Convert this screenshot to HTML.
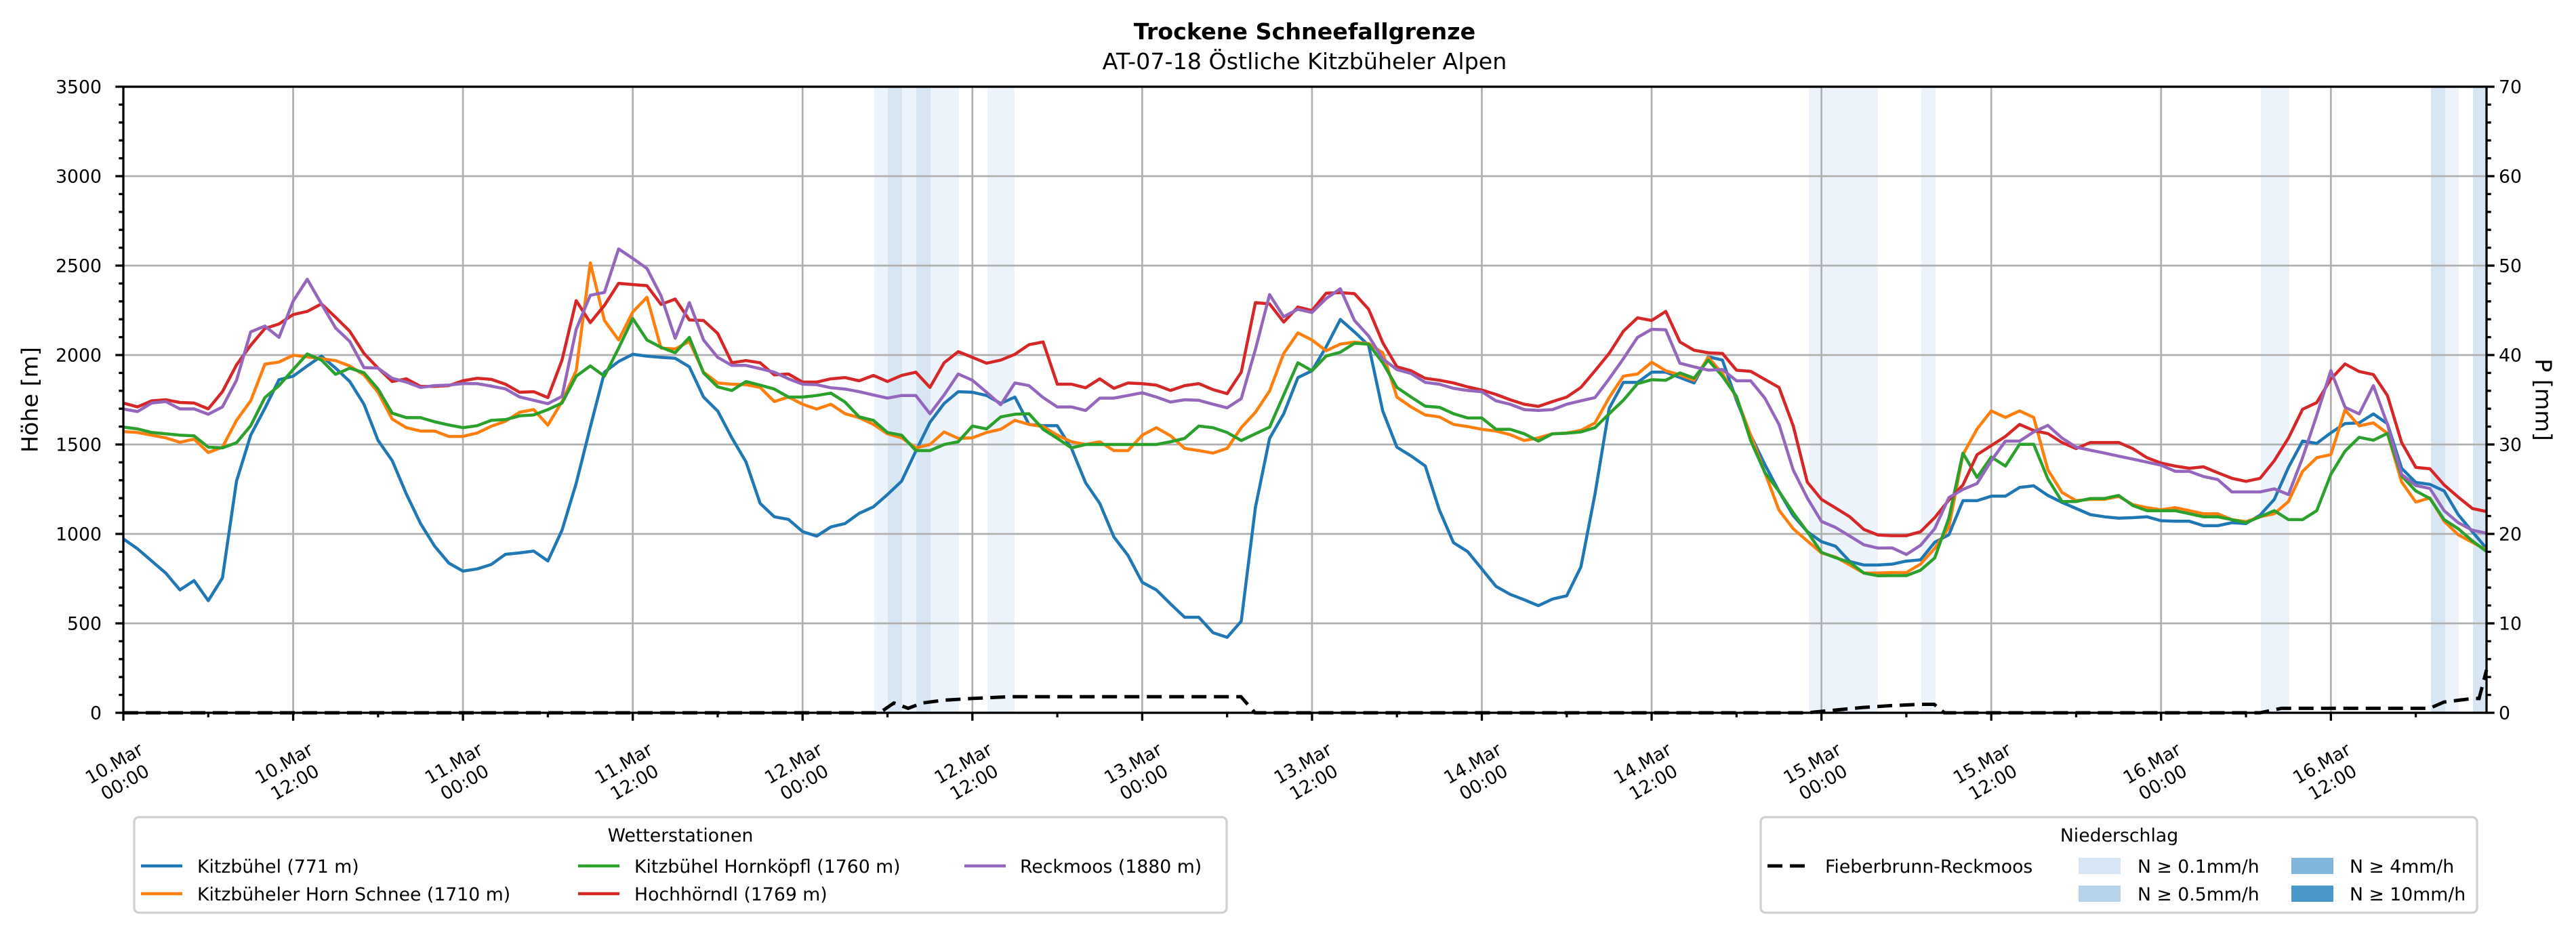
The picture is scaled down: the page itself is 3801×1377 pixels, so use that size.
<!DOCTYPE html>
<html><head><meta charset="utf-8">
<style>
html,body{margin:0;padding:0;background:#fff;}
svg{display:block;}
text{font-family:"DejaVu Sans","Liberation Sans",sans-serif;fill:#000;}
</style></head>
<body>
<svg id="s" xmlns="http://www.w3.org/2000/svg" width="3801" height="1377" viewBox="0 0 3801 1377">
<rect width="3801" height="1377" fill="#fff"/>
<g id="bands"></g>
<g id="grid"></g>
<g id="series" fill="none" stroke-width="4.5" stroke-linejoin="round" stroke-linecap="butt"></g>
<polyline fill="none" stroke="#000" stroke-width="5" stroke-dasharray="22,11" points="182,1052 1298,1052 1319,1037.5 1340,1045.4 1361,1037.5 1392,1033.5 1434,1030.9 1476,1028.9 1497,1028.2 1831,1028.2 1852,1052 2666,1052 2708,1048 2749,1044.1 2791,1041.4 2833,1039.5 2854,1039.5 2869,1052 3335,1052 3366,1045.4 3585,1045.4 3606,1036.2 3648,1030.9 3658,1030.9 3669,988.6"/>
<rect x="182" y="128" width="3487" height="924" fill="none" stroke="#000" stroke-width="3.3"/>
<g id="ticks" stroke="#000" stroke-width="3.3"></g>
<g id="labels" font-size="26.7"></g>
<text x="1925" y="58" text-anchor="middle" font-size="33.3" font-weight="bold">Trockene Schneefallgrenze</text>
<text x="1925" y="102" text-anchor="middle" font-size="33.3">AT-07-18 Östliche Kitzbüheler Alpen</text>
<text transform="translate(44,590) rotate(-90)" text-anchor="middle" dominant-baseline="central" font-size="33.3">Höhe [m]</text>
<text transform="translate(3753,590) rotate(90)" text-anchor="middle" dominant-baseline="central" font-size="33.3">P [mm]</text>

<!-- Legend 1 -->
<rect x="198" y="1206" width="1612" height="141" rx="7" fill="#fff" stroke="#d0d0d0" stroke-width="3.3"/>
<text x="1004" y="1242" text-anchor="middle" font-size="26.7">Wetterstationen</text>
<line x1="208" y1="1278" x2="269" y2="1278" stroke="#1f77b4" stroke-width="4.5"/>
<text x="291" y="1288" font-size="26.7">Kitzbühel (771 m)</text>
<line x1="208" y1="1319" x2="269" y2="1319" stroke="#ff7f0e" stroke-width="4.5"/>
<text x="291" y="1329" font-size="26.7">Kitzbüheler Horn Schnee (1710 m)</text>
<line x1="853" y1="1278" x2="914" y2="1278" stroke="#2ca02c" stroke-width="4.5"/>
<text x="936" y="1288" font-size="26.7">Kitzbühel Hornköpfl (1760 m)</text>
<line x1="853" y1="1319" x2="914" y2="1319" stroke="#d62728" stroke-width="4.5"/>
<text x="936" y="1329" font-size="26.7">Hochhörndl (1769 m)</text>
<line x1="1423" y1="1278" x2="1484" y2="1278" stroke="#9467bd" stroke-width="4.5"/>
<text x="1505" y="1288" font-size="26.7">Reckmoos (1880 m)</text>

<!-- Legend 2 -->
<rect x="2598" y="1206" width="1057" height="141" rx="7" fill="#fff" stroke="#d0d0d0" stroke-width="3.3"/>
<text x="3127" y="1242" text-anchor="middle" font-size="26.7">Niederschlag</text>
<line x1="2608" y1="1278" x2="2667" y2="1278" stroke="#000" stroke-width="5" stroke-dasharray="22,11"/>
<text x="2693" y="1288" font-size="26.7">Fieberbrunn-Reckmoos</text>
<rect x="3067" y="1266" width="62" height="24" fill="#d6e6f4"/>
<text x="3154" y="1288" font-size="26.7">N ≥ 0.1mm/h</text>
<rect x="3067" y="1307" width="62" height="24" fill="#b7d4ea"/>
<text x="3154" y="1329" font-size="26.7">N ≥ 0.5mm/h</text>
<rect x="3381" y="1266" width="62" height="24" fill="#7fb6da"/>
<text x="3467" y="1288" font-size="26.7">N ≥ 4mm/h</text>
<rect x="3381" y="1307" width="62" height="24" fill="#4a98c9"/>
<text x="3467" y="1329" font-size="26.7">N ≥ 10mm/h</text>
</svg>
<script>
(function(){
var NS="http://www.w3.org/2000/svg";
var L=182,R=3669,T=128,B=1052;
var ph=(R-L)/167;
function X(h){return L+h*ph;}
function Y(m){return B-m*0.264;}
function el(p,tag,a,txt){var e=document.createElementNS(NS,tag);for(var k in a)e.setAttribute(k,a[k]);if(txt!==undefined)e.textContent=txt;p.appendChild(e);return e;}
var bands=document.getElementById('bands');
var light=[[1290,1310],[1331,1352],[1373,1415],[1457,1497],[2669,2771],[2835,2856],[3336,3378],[3608,3628]];
var dark=[[1310,1331],[1352,1373],[3587,3608],[3649,3669]];
light.forEach(function(b){el(bands,'rect',{x:b[0],y:T,width:b[1]-b[0],height:B-T,fill:'#edf3fa'});});
dark.forEach(function(b){el(bands,'rect',{x:b[0],y:T,width:b[1]-b[0],height:B-T,fill:'#d8e6f3'});});
var grid=document.getElementById('grid');
for(var m=500;m<3500;m+=500){el(grid,'line',{x1:L,x2:R,y1:Y(m),y2:Y(m),stroke:'#b0b0b0','stroke-width':2.7});}
for(var h=12;h<=156;h+=12){el(grid,'line',{x1:X(h),x2:X(h),y1:T,y2:B,stroke:'#b0b0b0','stroke-width':2.7});}
var data={
'#1f77b4':[972,917,849,781,687,739,627,754,1295,1552,1702,1862,1882,1939,1994,1927,1852,1725,1523,1410,1223,1058,931,837,792,804,829,886,894,904,849,1021,1283,1597,1904,1964,2004,1994,1987,1982,1934,1765,
1687,1537,1403,1171,1096,1081,1013,988,1039,1058,1115,1151,1220,1295,1463,1624,1729,1795,1792,1774,1729,1765,1612,1605,1605,1478,1286,1171,983,879,729,687,609,534,534,448,422,512,1148,1534,1672,1874,
1912,2046,2199,2129,2054,1687,1485,1436,1380,1133,951,901,804,707,662,632,599,636,654,816,1223,1702,1847,1847,1904,1904,1874,1844,1990,1972,1747,1552,1388,1238,1103,1013,957,931,846,826,826,
831,848,855,953,995,1186,1186,1211,1211,1260,1269,1215,1176,1142,1108,1096,1088,1091,1096,1074,1071,1071,1046,1046,1063,1058,1105,1193,1372,1519,1506,1565,1617,1621,1671,1616,1367,1288,1277,1240,1108,1012,919],
'#ff7f0e':[1572,1567,1552,1537,1512,1530,1455,1485,1635,1744,1949,1961,1999,1990,1979,1969,1939,1889,1792,1642,1594,1575,1575,1545,1545,1564,1602,1630,1680,1695,1608,1740,1912,2515,2193,2084,2241,2323,2039,2034,2076,1904,
1844,1837,1834,1819,1740,1765,1725,1698,1725,1672,1650,1612,1560,1537,1481,1500,1570,1534,1537,1567,1585,1635,1612,1600,1552,1515,1500,1515,1466,1466,1552,1594,1549,1478,1466,1452,1478,1594,1680,1799,2009,2124,
2084,2024,2061,2072,2064,2013,1765,1710,1665,1654,1612,1600,1585,1575,1555,1522,1537,1560,1564,1579,1620,1762,1882,1894,1960,1912,1889,1859,1987,1897,1762,1552,1343,1133,1029,961,894,871,826,781,781,
784,784,831,919,1037,1443,1587,1688,1651,1688,1651,1359,1232,1186,1193,1193,1210,1164,1147,1135,1147,1130,1113,1113,1080,1068,1096,1113,1181,1350,1426,1443,1693,1604,1621,1562,1291,1178,1201,1071,995,953,910],
'#2ca02c':[1597,1587,1567,1560,1552,1548,1485,1481,1510,1605,1762,1829,1919,2006,1972,1892,1927,1901,1810,1675,1650,1650,1627,1609,1594,1605,1635,1639,1660,1665,1695,1732,1882,1939,1882,2039,2204,2084,2043,2013,2099,1900,
1822,1802,1852,1832,1810,1765,1765,1774,1787,1737,1654,1635,1567,1552,1466,1466,1500,1515,1603,1587,1654,1669,1672,1585,1534,1481,1500,1500,1500,1500,1500,1500,1515,1534,1603,1594,1567,1522,1560,1597,1777,1957,
1912,1994,2016,2066,2061,1957,1819,1765,1714,1708,1672,1648,1648,1585,1585,1560,1519,1560,1563,1570,1594,1672,1747,1840,1862,1859,1900,1871,1972,1882,1769,1522,1343,1238,1118,1013,897,867,841,781,766,
767,767,797,865,1088,1452,1316,1430,1379,1501,1501,1308,1181,1181,1198,1198,1215,1159,1130,1130,1130,1113,1096,1096,1080,1063,1096,1130,1080,1080,1130,1333,1463,1540,1524,1562,1325,1240,1198,1080,1029,961,902],
'#d62728':[1732,1710,1744,1750,1735,1732,1699,1795,1945,2054,2148,2174,2226,2244,2286,2211,2133,2009,1927,1852,1867,1825,1825,1829,1856,1870,1864,1837,1792,1795,1762,1972,2304,2181,2278,2401,2394,2388,2283,2313,2196,2193,
2121,1957,1969,1957,1889,1894,1849,1849,1867,1874,1856,1886,1852,1886,1904,1819,1957,2019,1987,1954,1972,2004,2058,2073,1837,1837,1817,1867,1814,1844,1840,1832,1802,1829,1840,1807,1784,1904,2293,2286,2184,2268,
2249,2346,2349,2343,2256,2069,1934,1912,1870,1859,1844,1822,1804,1780,1750,1725,1713,1740,1765,1819,1912,2009,2133,2208,2193,2244,2073,2027,2013,2009,1915,1909,1864,1819,1605,1290,1193,1145,1096,1025,994,
990,990,1012,1091,1189,1274,1443,1494,1545,1612,1578,1561,1511,1477,1511,1511,1511,1477,1426,1396,1379,1367,1375,1342,1311,1294,1311,1409,1536,1697,1734,1866,1950,1908,1891,1773,1511,1372,1364,1274,1206,1142,1125],
'#9467bd':[1698,1684,1732,1740,1699,1699,1669,1710,1859,2129,2162,2099,2301,2424,2286,2151,2076,1930,1927,1870,1849,1819,1829,1832,1841,1840,1826,1811,1766,1747,1728,1769,2144,2334,2350,2593,2540,2484,2331,2094,2293,2084,
1987,1942,1942,1924,1904,1867,1837,1834,1817,1810,1795,1777,1759,1774,1774,1672,1777,1894,1859,1792,1722,1844,1829,1762,1710,1710,1690,1759,1759,1774,1789,1765,1737,1750,1747,1725,1705,1756,2031,2338,2214,2256,
2238,2316,2371,2193,2106,1979,1919,1897,1847,1837,1814,1802,1795,1744,1725,1695,1690,1695,1725,1744,1762,1867,1979,2099,2144,2141,1954,1934,1916,1919,1856,1856,1759,1612,1358,1201,1070,1036,988,939,921,
922,885,936,1029,1203,1249,1282,1409,1519,1519,1570,1607,1536,1485,1468,1452,1435,1418,1401,1384,1350,1350,1321,1304,1235,1235,1235,1252,1220,1426,1663,1913,1708,1671,1829,1612,1333,1271,1254,1130,1063,1021,1004]
};
var ser=document.getElementById('series');
Object.keys(data).forEach(function(c){
  var pts=data[c].map(function(v,i){return X(i).toFixed(1)+','+Y(v).toFixed(1);}).join(' ');
  el(ser,'polyline',{points:pts,stroke:c});
});
var tk=document.getElementById('ticks');
for(var m=0;m<=3500;m+=100){var maj=m%500===0;el(tk,'line',{x1:L-(maj?11.7:6.7),x2:L,y1:Y(m),y2:Y(m)});}
for(var p=0;p<=70;p+=2){var yy=B-p*13.2;var maj2=p%10===0;el(tk,'line',{x1:R,x2:R+(maj2?11.7:6.7),y1:yy,y2:yy});}
for(var h=0;h<=167;h+=6){var mj=h%12===0;el(tk,'line',{x1:X(h),x2:X(h),y1:B,y2:B+(mj?11.7:6.7)});}
var lb=document.getElementById('labels');
for(var m=0;m<=3500;m+=500){el(lb,'text',{x:150,y:Y(m)+9.7,'text-anchor':'end'},String(m));}
for(var p=0;p<=70;p+=10){el(lb,'text',{x:3687,y:B-p*13.2+9.7},String(p));}
var days=['10','11','12','13','14','15','16'];
for(var i=0;i<14;i++){
  var d=days[Math.floor(i/2)]+'.Mar', t=(i%2?'12:00':'00:00');
  var cx=X(i*12)-6, cy=1140;
  var g=el(lb,'text',{transform:'translate('+cx.toFixed(1)+','+cy+') rotate(-30)','text-anchor':'middle'});
  el(g,'tspan',{x:0,y:-6},d);
  el(g,'tspan',{x:0,y:26},t);
}
})();
</script>
</body></html>
